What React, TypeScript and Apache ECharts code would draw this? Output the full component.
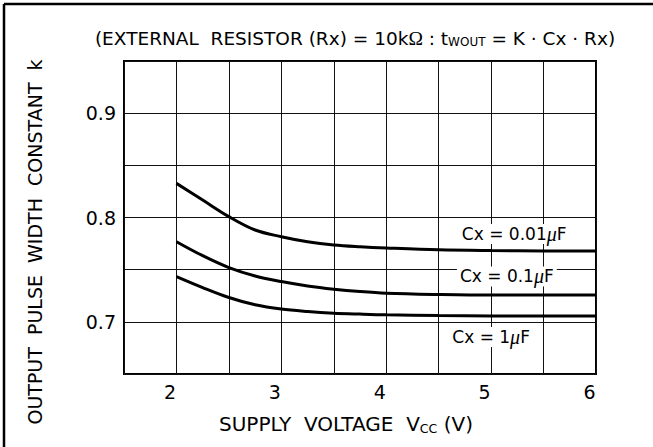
import React, { useEffect, useRef } from "react";
import * as echarts from "echarts";

const FONT = "DejaVu Sans";

// x: supply voltage (V)
const voltages = [2.0, 2.25, 2.5, 2.75, 3.0, 3.25, 3.5, 3.75, 4.0, 4.5, 5.0, 5.5, 6.0];
// output pulse width constant k
const k001 = [0.8327, 0.8167, 0.8008, 0.788, 0.7816, 0.7768, 0.7737, 0.772, 0.7708, 0.769, 0.7683, 0.768, 0.768];
const k01 = [0.7768, 0.7634, 0.752, 0.744, 0.7386, 0.7344, 0.7313, 0.729, 0.7274, 0.7262, 0.7256, 0.7256, 0.7256];
const k1 = [0.7433, 0.7328, 0.7233, 0.7163, 0.7122, 0.7099, 0.7083, 0.7074, 0.7067, 0.706, 0.7057, 0.7057, 0.7057];

const seriesNames = ["0.01", "0.1", "1"];
const seriesValues = [k001, k01, k1];
// label anchor positions (data coordinates)
const labelX = [5.22, 5.15, 5.0];
const labelY = [0.7843, 0.7435, 0.6855];

const xTickLabels = ["2", "3", "4", "5", "6"];
const yTickLabels = ["0.7", "0.8", "0.9"];

export default function App() {
  const ref = useRef<HTMLDivElement>(null);
  useEffect(() => {
    if (!ref.current) return;
    const chart = echarts.init(ref.current, undefined, { renderer: "svg" });
    const isTick = (v: number, list: string[]) => {
      const hit = list.find((s) => Math.abs(parseFloat(s) - v) < 1e-6);
      return hit ?? "";
    };
    const series: any[] = seriesValues.map((vals, i) => ({
      type: "line",
      name: seriesNames[i],
      data: voltages.map((x, j) => [x, vals[j]]),
      smooth: 0.35,
      symbol: "none",
      lineStyle: { color: "#000", width: 3 },
      z: 5,
      markPoint: {
        symbol: "circle",
        symbolSize: 1,
        itemStyle: { color: "rgba(0,0,0,0)" },
        z: 10,
        data: [{ coord: [labelX[i], labelY[i]] }],
        label: {
          show: true,
          position: "inside",
          formatter: `Cx = ${seriesNames[i]}{mu|μ}F`,
          color: "#000",
          fontFamily: FONT,
          fontSize: 17,
          backgroundColor: "#fff",
          padding: [0, 3, 0, 3],
          rich: {
            mu: { fontFamily: "Liberation Serif", fontStyle: "italic", fontSize: 20, color: "#000" },
          },
        },
      },
    }));
    chart.setOption({
      animation: false,
      grid: {
        left: 124,
        top: 61,
        right: 57,
        bottom: 73,
        show: true,
        borderColor: "#000",
        borderWidth: 2,
      },
      xAxis: {
        type: "value",
        min: 1.5,
        max: 6,
        interval: 0.5,
        axisLine: { show: false },
        axisTick: { show: false },
        splitLine: { show: true, lineStyle: { color: "#111", width: 1 } },
        axisLabel: {
          formatter: (v: number) => isTick(v, xTickLabels),
          color: "#000",
          fontFamily: FONT,
          fontSize: 19,
          margin: 8,
          padding: [0, 13, 0, 0],
        },
      },
      yAxis: {
        type: "value",
        min: 0.65,
        max: 0.95,
        interval: 0.05,
        axisLine: { show: false },
        axisTick: { show: false },
        splitLine: { show: true, lineStyle: { color: "#111", width: 1 } },
        axisLabel: {
          formatter: (v: number) => isTick(v, yTickLabels),
          color: "#000",
          fontFamily: FONT,
          fontSize: 19,
          margin: 8,
        },
      },
      series,
      graphic: [
        { type: "line", shape: { x1: 4, y1: 4, x2: 653, y2: 4 }, style: { stroke: "#000", lineWidth: 2.5 } },
        { type: "line", shape: { x1: 4, y1: 4, x2: 4, y2: 447 }, style: { stroke: "#000", lineWidth: 2.5 } },
        {
          type: "text",
          x: 355,
          y: 38,
          style: {
            text: "(EXTERNAL  RESISTOR (Rx) = 10k{om|Ω} : t{sub|WOUT} = K · Cx · Rx)",
            fontFamily: FONT,
            fontSize: 18.5,
            fill: "#000",
            align: "center",
            verticalAlign: "middle",
            rich: {
              om: { fontFamily: "Liberation Serif", fontSize: 19.5, fill: "#000" },
              sub: { fontFamily: FONT, fontSize: 12, fill: "#000", padding: [8, 0, 0, 0] },
            },
          },
        },
        {
          type: "text",
          x: 35,
          y: 242,
          rotation: Math.PI / 2,
          style: {
            text: "OUTPUT  PULSE  WIDTH  CONSTANT  k",
            fontFamily: FONT,
            fontSize: 19,
            fill: "#000",
            align: "center",
            verticalAlign: "middle",
          },
        },
        {
          type: "text",
          x: 346,
          y: 424,
          style: {
            text: "SUPPLY  VOLTAGE  V{sub|CC} (V)",
            fontFamily: FONT,
            fontSize: 20,
            fill: "#000",
            align: "center",
            verticalAlign: "middle",
            rich: {
              sub: { fontFamily: FONT, fontSize: 12.5, fill: "#000", padding: [8, 0, 0, 0] },
            },
          },
        },
      ],
    });
    return () => chart.dispose();
  }, []);
  return (
    <div
      ref={ref}
      style={{ position: "fixed", left: 0, top: 0, width: 653, height: 447, background: "#fff" }}
    />
  );
}
